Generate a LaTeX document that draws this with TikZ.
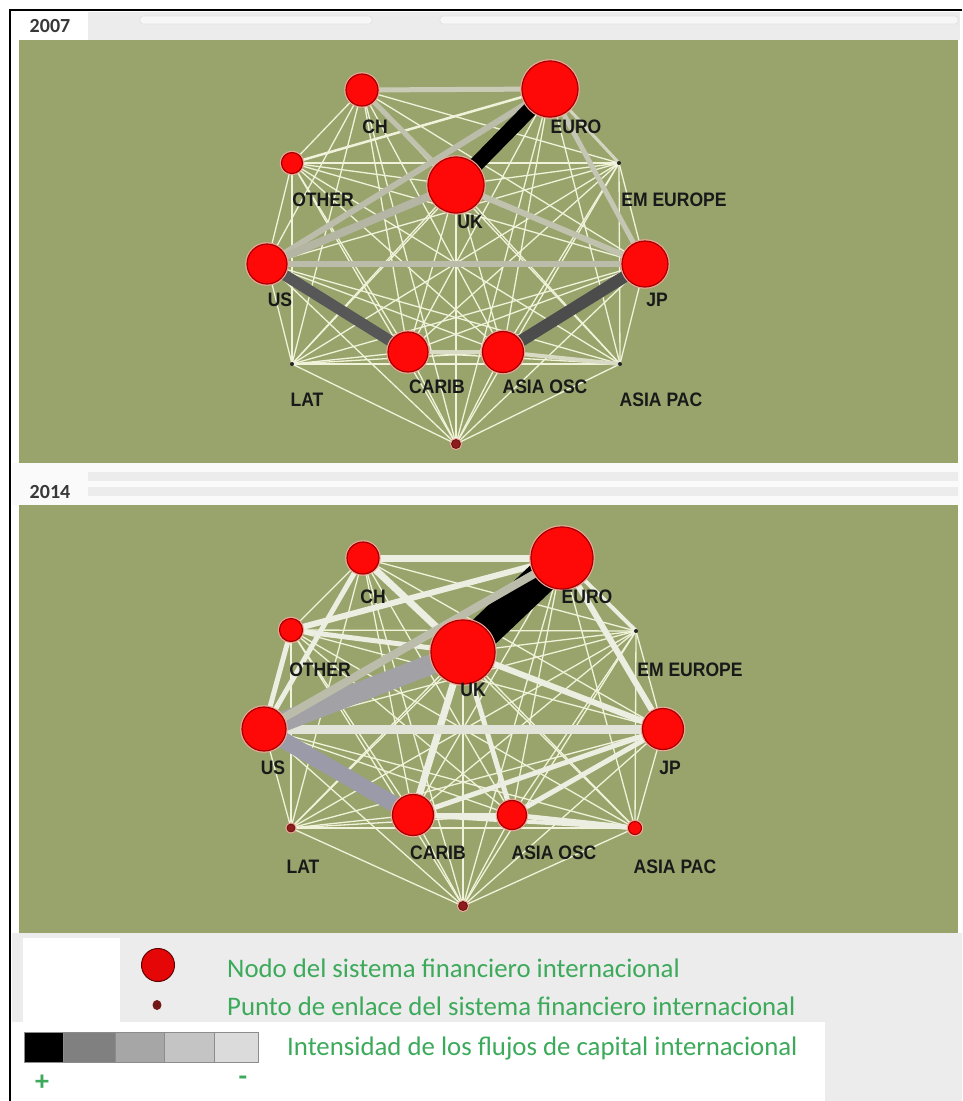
\documentclass[tikz,border=0pt]{standalone}
\usepackage{fontspec}
\setmainfont{Liberation Sans}
\newfontfamily\legfont{Carlito}
\usetikzlibrary{shapes.geometric}
\definecolor{plotgreen}{HTML}{99A46D}
\definecolor{thinline}{HTML}{F0F2DA}
\definecolor{whiteflow}{HTML}{ECEEE2}
\definecolor{nodered}{HTML}{FF0808}
\definecolor{noderim}{HTML}{A00000}
\definecolor{halo}{HTML}{F2A898}
\definecolor{linkred}{HTML}{8E1C1C}
\definecolor{legendgreen}{HTML}{3CAA5A}
\definecolor{headgray}{HTML}{ECECEC}
\definecolor{barline}{HTML}{E2E2E2}
\definecolor{bluegray}{HTML}{9A9AA8}
\definecolor{midgray}{HTML}{A2A2A6}
\newcommand{\netlab}[1]{\scalebox{0.9}[1]{#1}}
\pgfdeclarelayer{back}
\pgfdeclarelayer{edges}
\pgfsetlayers{back,edges,main}
\tikzset{
  bignode/.style={circle, fill=nodered, draw=noderim, line width=1.2pt, inner sep=0pt, preaction={draw=halo, line width=3.5pt}},
  dotnode/.style={circle, fill=black!85, inner sep=0pt, minimum size=4pt},
  linknode/.style={circle, fill=linkred, draw=linkred!70!black, line width=0.8pt, inner sep=0pt, preaction={draw=halo, line width=3pt}},
  lbl/.style={font=\bfseries\fontsize{19.5}{20}\selectfont, text=black!90, inner sep=0pt},
  thinedge/.style={draw=thinline, line width=1.3pt},
  fatedge/.style={line width=#1},
  legtext/.style={font=\legfont\fontsize{26.8}{27}\selectfont, text=legendgreen, inner sep=0pt, anchor=west},
  yeartext/.style={font=\legfont\bfseries\fontsize{20}{20}\selectfont, text=black!78, inner sep=0pt},
  scalebox/.style={draw=black!45, line width=0.8pt},
  signtext/.style={font=\legfont\bfseries\fontsize{28}{28}\selectfont, text=legendgreen, inner sep=0pt}
}
\begin{document}
\begin{tikzpicture}[x=1pt, y=-1pt]
\useasboundingbox (0,0) rectangle (962,1101);
\begin{pgfonlayer}{back}
\fill[white] (0,0) rectangle (962,1101);
% header 2007
\fill[headgray] (12,12) rectangle (960,40);
\fill[white] (12,12) rectangle (88,40);
\draw[barline, fill=black!3, rounded corners=3pt, line width=0.8pt] (140,16) rectangle (372,24);
\draw[barline, fill=black!3, rounded corners=3pt, line width=0.8pt] (440,16) rectangle (958,24);
% panel 1
\fill[plotgreen] (19,40) rectangle (958,463);
% header 2014
\fill[black!2] (12,463) rectangle (960,505);
\fill[headgray] (88,472) rectangle (958,481);
\fill[headgray] (88,487) rectangle (958,496);
% panel 2
\fill[plotgreen] (19,505) rectangle (958,933);
% legend
\fill[headgray] (12,933) rectangle (962,1101);
\fill[white] (23,938) rectangle (120,1022);
\fill[white] (12,1022) rectangle (825,1101);
% frame
\draw[black, line width=1.6pt] (10,1101) -- (10,10) -- (962,10);
\end{pgfonlayer}

\node[yeartext] (y1) at (50,26) {2007};
\node[yeartext] (y2) at (50,492) {2014};

% ---------------- 2007 nodes
\node[bignode, minimum size=32pt] (a1) at (362,90) {};
\node[bignode, minimum size=56pt] (a2) at (550,89) {};
\node[bignode, minimum size=21pt] (a3) at (292,163) {};
\node[dotnode] (a4) at (619,163) {};
\node[bignode, minimum size=56pt] (a5) at (456,185) {};
\node[bignode, minimum size=40pt] (a6) at (267,264) {};
\node[bignode, minimum size=46pt] (a7) at (645,264) {};
\node[bignode, minimum size=40pt] (a8) at (408,352) {};
\node[bignode, minimum size=41pt] (a9) at (503,352) {};
\node[dotnode] (a10) at (292,364) {};
\node[dotnode] (a11) at (620,364) {};
\node[linknode, minimum size=9pt] (a12) at (456,444) {};

% ---------------- 2014 nodes
\node[bignode, minimum size=32pt] (b1) at (363,558) {};
\node[bignode, minimum size=62pt] (b2) at (562,558) {};
\node[bignode, minimum size=23pt] (b3) at (291,630) {};
\node[dotnode] (b4) at (636,631) {};
\node[bignode, minimum size=64pt] (b5) at (463,652) {};
\node[bignode, minimum size=44pt] (b6) at (264,729) {};
\node[bignode, minimum size=41pt] (b7) at (663,729) {};
\node[bignode, minimum size=41pt] (b8) at (413,815) {};
\node[bignode, minimum size=29pt] (b9) at (512,815) {};
\node[linknode, minimum size=8pt] (b10) at (291,828) {};
\node[bignode, minimum size=13pt, line width=1pt] (b11) at (635,828) {};
\node[linknode, minimum size=9pt] (b12) at (463,906) {};

\begin{pgfonlayer}{edges}
\foreach \i in {1,...,11}{
  \pgfmathtruncatemacro{\s}{\i+1}
  \foreach \j in {\s,...,12}{
    \draw[thinedge] (a\i.center) -- (a\j.center);
    \draw[thinedge] (b\i.center) -- (b\j.center);
  }
}
% 2007 weighted flows
\draw[fatedge=4pt, draw=black!10!thinline] (a8.center) -- (a9.center);
\draw[fatedge=4pt, draw=black!10!thinline] (a9.center) -- (a11.center);
\draw[fatedge=3pt, draw=black!12!thinline] (a2.center) -- (a4.center);
\draw[fatedge=2.5pt, draw=thinline] (a3.center) -- (a2.center);
\draw[fatedge=5pt, draw=black!16!thinline] (a1.center) -- (a2.center);
\draw[fatedge=5pt, draw=black!20!thinline] (a1.center) -- (a5.center);
\draw[fatedge=5pt, draw=black!18!thinline] (a2.center) -- (a7.center);
\draw[fatedge=6pt, draw=black!20!thinline] (a5.center) -- (a7.center);
\draw[fatedge=6pt, draw=black!22!thinline] (a6.center) -- (a7.center);
\draw[fatedge=6pt, draw=black!22!thinline] (a6.center) -- (a2.center);
\draw[fatedge=8pt, draw=black!25!thinline] (a6.center) -- (a5.center);
\draw[fatedge=11pt, draw=black!66] (a6.center) -- (a8.center);
\draw[fatedge=12pt, draw=black!70] (a7.center) -- (a9.center);
\draw[fatedge=15pt, draw=black] (a5.center) -- (a2.center);
% 2014 weighted flows
\draw[fatedge=5pt, draw=whiteflow] (b8.center) -- (b9.center);
\draw[fatedge=5pt, draw=whiteflow] (b9.center) -- (b11.center);
\draw[fatedge=4pt, draw=whiteflow] (b8.center) -- (b11.center);
\draw[fatedge=4pt, draw=whiteflow] (b2.center) -- (b4.center);
\draw[fatedge=5pt, draw=whiteflow] (b7.center) -- (b8.center);
\draw[fatedge=5pt, draw=whiteflow] (b7.center) -- (b9.center);
\draw[fatedge=6pt, draw=whiteflow] (b7.center) -- (b5.center);
\draw[fatedge=6pt, draw=whiteflow] (b2.center) -- (b7.center);
\draw[fatedge=5pt, draw=whiteflow] (b9.center) -- (b5.center);
\draw[fatedge=7pt, draw=whiteflow] (b8.center) -- (b5.center);
\draw[fatedge=5pt, draw=whiteflow] (b1.center) -- (b6.center);
\draw[fatedge=5pt, draw=whiteflow] (b3.center) -- (b6.center);
\draw[fatedge=5pt, draw=whiteflow] (b3.center) -- (b5.center);
\draw[fatedge=6pt, draw=whiteflow] (b3.center) -- (b2.center);
\draw[fatedge=7pt, draw=whiteflow] (b1.center) -- (b2.center);
\draw[fatedge=7pt, draw=whiteflow] (b1.center) -- (b5.center);
\draw[fatedge=9pt, draw=black!4!whiteflow] (b6.center) -- (b7.center);
\draw[fatedge=16pt, draw=bluegray] (b6.center) -- (b8.center);
\draw[fatedge=20pt, draw=midgray] (b6.center) -- (b5.center);
\draw[fatedge=33pt, draw=black] (b5.center) -- (b2.center);
\draw[fatedge=8pt, draw=black!22!thinline] (b6.center) -- (b2.center);
\end{pgfonlayer}

% ---------------- labels 2007
\node[lbl] (la1) at (375,127) {\netlab{CH}};
\node[lbl] (la2) at (576,127) {\netlab{EURO}};
\node[lbl] (la3) at (323,200) {\netlab{OTHER}};
\node[lbl] (la4) at (674,200) {\netlab{EM EUROPE}};
\node[lbl] (la5) at (470,222) {\netlab{UK}};
\node[lbl] (la6) at (280,300) {\netlab{US}};
\node[lbl] (la7) at (657,300) {\netlab{JP}};
\node[lbl] (la8) at (437,387) {\netlab{CARIB}};
\node[lbl] (la9) at (545,387) {\netlab{ASIA OSC}};
\node[lbl] (la10) at (307,400) {\netlab{LAT}};
\node[lbl] (la11) at (661,400) {\netlab{ASIA PAC}};

% ---------------- labels 2014
\node[lbl] (lb1) at (373,597) {\netlab{CH}};
\node[lbl] (lb2) at (587,597) {\netlab{EURO}};
\node[lbl] (lb3) at (320,670) {\netlab{OTHER}};
\node[lbl] (lb4) at (690,670) {\netlab{EM EUROPE}};
\node[lbl] (lb5) at (473,690) {\netlab{UK}};
\node[lbl] (lb6) at (273,768) {\netlab{US}};
\node[lbl] (lb7) at (670,768) {\netlab{JP}};
\node[lbl] (lb8) at (438,853) {\netlab{CARIB}};
\node[lbl] (lb9) at (554,853) {\netlab{ASIA OSC}};
\node[lbl] (lb10) at (303,867) {\netlab{LAT}};
\node[lbl] (lb11) at (675,867) {\netlab{ASIA PAC}};

% ---------------- legend
\node[ellipse, fill=nodered!90!black, draw=noderim!60!black, line width=1pt, minimum width=33pt, minimum height=33pt, inner sep=0pt] (le1) at (158,965) {};
\node[ellipse, fill=linkred!80!black, inner sep=0pt, minimum width=9pt, minimum height=10pt] (le2) at (157,1005) {};
\node[legtext] (lt1) at (227,968) {Nodo del sistema financiero internacional};
\node[legtext] (lt2) at (227,1006) {Punto de enlace del sistema financiero internacional};
\node[legtext] (lt3) at (287,1048) {Intensidad de los flujos de capital internacional};
\fill[black] (24,1032) rectangle (63,1062);
\fill[black!50] (63,1032) rectangle (115,1062);
\fill[black!35] (115,1032) rectangle (164,1062);
\fill[black!23] (164,1032) rectangle (214,1062);
\fill[black!14] (214,1032) rectangle (258,1062);
\draw[scalebox] (24,1032) rectangle (258,1062);
\draw[scalebox] (63,1032) -- (63,1062) (115,1032) -- (115,1062) (164,1032) -- (164,1062) (214,1032) -- (214,1062);
\node[signtext] (plus) at (42,1083) {+};
\node[signtext] (minus) at (243,1081) {-};
\end{tikzpicture}
\end{document}
